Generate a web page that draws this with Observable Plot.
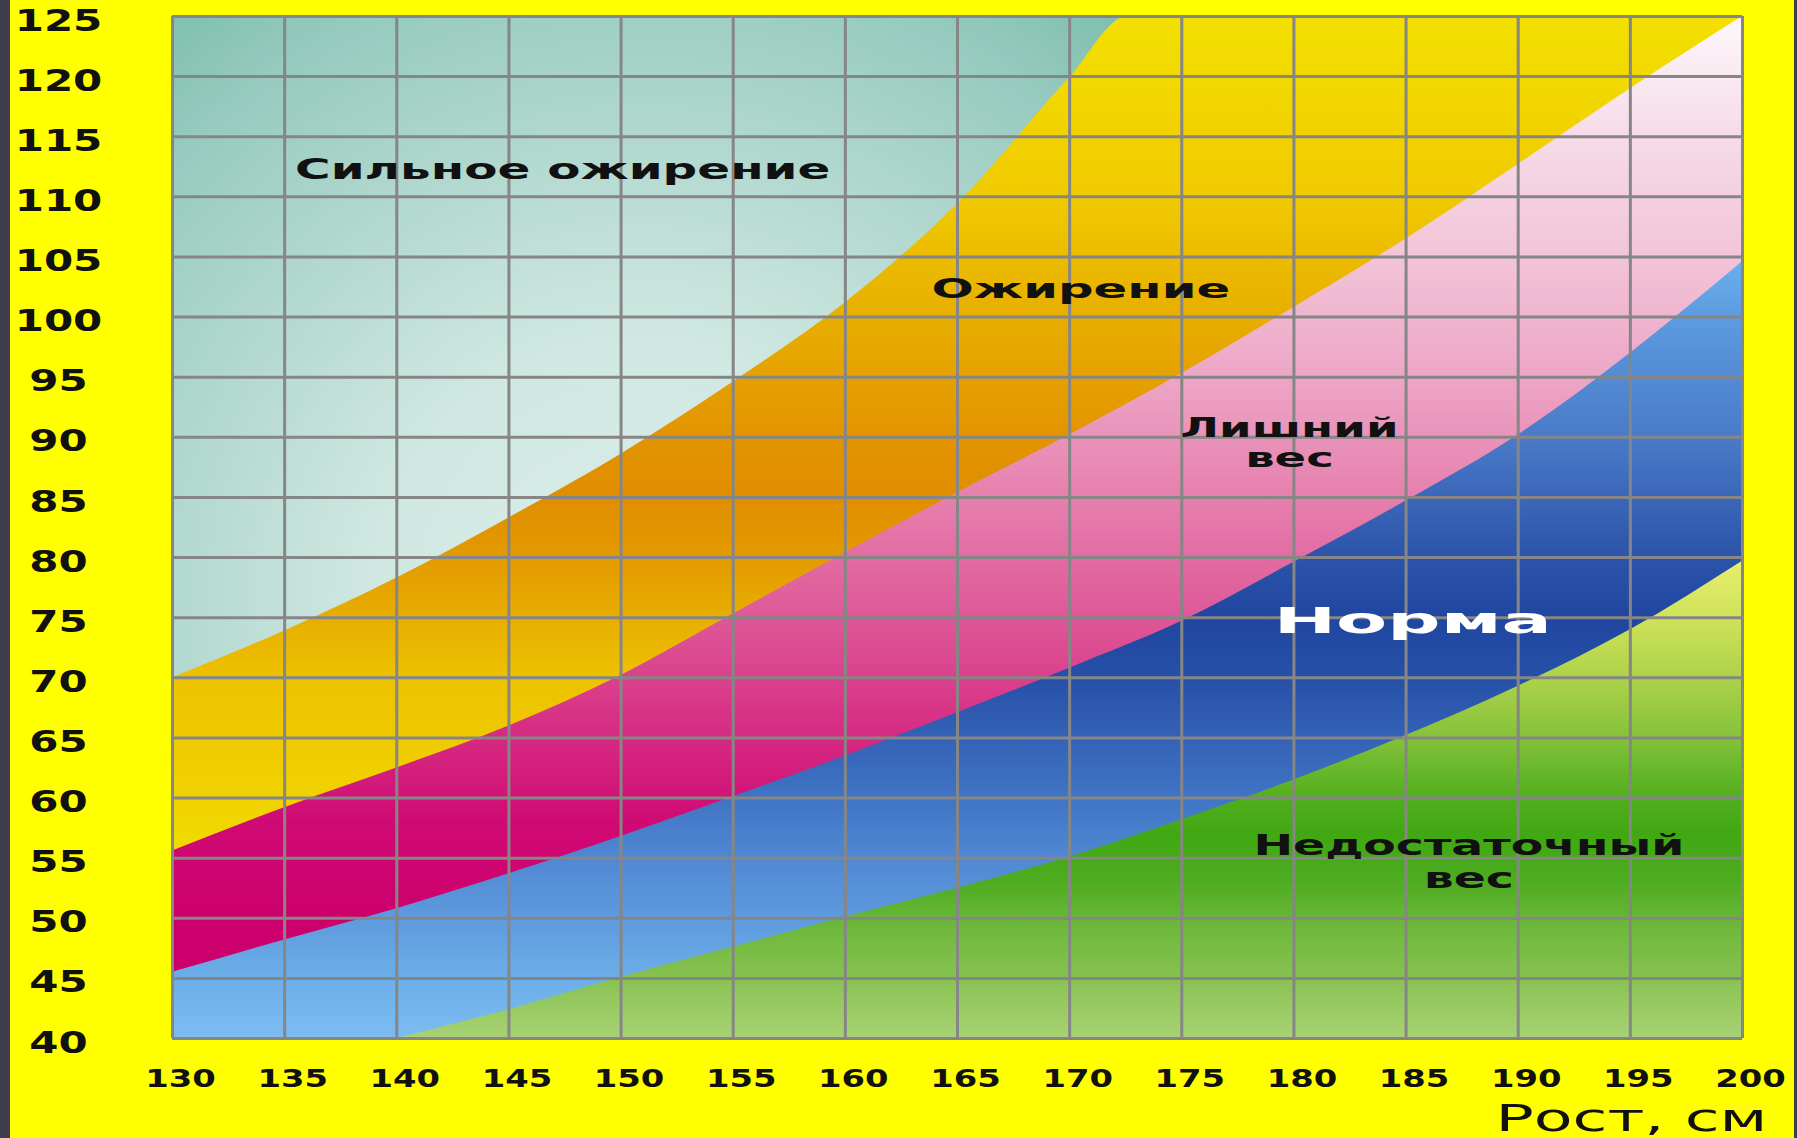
<!DOCTYPE html>
<html>
<head>
<meta charset="utf-8">
<script src="https://cdn.jsdelivr.net/npm/d3@7"></script>
<script src="https://cdn.jsdelivr.net/npm/@observablehq/plot@0.6"></script>
<style>
  html, body { margin: 0; padding: 0; background: #ffff00; overflow: hidden; }
  #wrap { position: relative; width: 1797px; height: 1138px; }
  #wrap .edgeL { position: absolute; left: 0; top: 0; width: 10px; height: 1138px; background: #3d3d4b; }
  #wrap .edgeR { position: absolute; right: 0; top: 0; width: 3px; height: 1138px; background: #3d3d4b; }
</style>
</head>
<body>
<div id="wrap"><div id="chart"></div><div class="edgeL"></div><div class="edgeR"></div></div>
<script>
// ---- Data ----
const heights = [130, 135, 140, 145, 150, 155, 160, 165, 170, 175, 180, 185, 190, 195, 200];
const weightTicks = [40, 45, 50, 55, 60, 65, 70, 75, 80, 85, 90, 95, 100, 105, 110, 115, 120, 125];

// lower edge of "Сильное ожирение" (top of the obesity band)
const severeHeights = [130, 135, 140, 145, 150, 155, 160, 165, 170, 172.6, 200];
const severeFrom   = [70, 73.9, 78.3, 83.3, 88.6, 94.6, 101.2, 109.4, 119.9, 125, 125];
// lower edge of "Ожирение" (top of the overweight band)
const obeseFrom      = [55.6, 59.2, 62.5, 66.0, 70.2, 75.3, 80.4, 85.4, 90.2, 95.3, 100.8, 106.5, 112.7, 119.0, 125];
// lower edge of "Лишний вес" (top of the norm band)
const overweightFrom = [45.5, 48.2, 50.8, 53.7, 56.8, 60.1, 63.5, 67.1, 70.8, 74.7, 79.6, 84.7, 90.2, 97.0, 104.6];
// lower edge of "Норма" (top of the underweight band)
const underHeights = [140, 145, 150, 155, 160, 165, 170, 175, 180, 185, 190, 195, 200];
const normFrom     = [40, 42.4, 45.1, 47.6, 50.1, 52.5, 55.1, 58.2, 61.5, 65.2, 69.3, 74.0, 79.7];

// zone labels
const zoneNames = ["Сильное ожирение", "Ожирение", "Лишний\nвес", "Норма", "Недостаточный\nвес"];
const zoneX = [147.4, 170.5, 179.8, 185.3, 187.8];
const zoneY = [112.2, 102.3, 89.6, 74.7, 54.8];
const xTitle = "Рост, см";

// ---- Styles ----
const zoneSize = [28, 27, 26, 36, 28];
const zoneFill = ["#111", "#111", "#111", "#fff", "#111"];
const zoneLineHeight = [1, 1, 1.19, 1, 1.2];
const zoneStretch = [1.73, 1.84, 1.79, 2.07, 1.69];
const FONT = "DejaVu Sans, Verdana, sans-serif";

const toRows = (xs, ys) => xs.map((h, i) => ({h, w: ys[i]}));
const severeRows = toRows(severeHeights, severeFrom);
const obeseRows = toRows(heights, obeseFrom);
const overRows = toRows(heights, overweightFrom);
const normRows = toRows(underHeights, normFrom);

const band = (rows, fill) => Plot.areaY(rows, {x: "h", y1: 40, y2: "w", fill, curve: "monotone-x"});

const chart = Plot.plot({
  width: 1797,
  height: 1138,
  marginLeft: 172,
  marginRight: 55,
  marginTop: 16,
  marginBottom: 100,
  style: {background: "#ffff00", fontFamily: FONT, overflow: "visible"},
  x: {domain: [130, 200], label: null},
  y: {domain: [40, 125], label: null},
  marks: [
    Plot.frame({fill: "url(#gTeal)", stroke: null}),
    band(severeRows, "url(#gOrange)"),
    band(obeseRows, "url(#gPink)"),
    band(overRows, "url(#gBlue)"),
    band(normRows, "url(#gGreen)"),
    Plot.ruleX(heights, {stroke: "#868686", strokeWidth: 3}),
    Plot.ruleY(weightTicks, {stroke: "#868686", strokeWidth: 3}),
    ...zoneNames.map((name, i) => Plot.text([i], {
      x: d => zoneX[d], y: d => zoneY[d], text: d => zoneNames[d],
      fontSize: zoneSize[i], fontWeight: "bold", fill: zoneFill[i],
      lineHeight: zoneLineHeight[i], lineAnchor: "middle", textAnchor: "middle"
    })),
    Plot.text([xTitle], {
      frameAnchor: "bottom-right", textAnchor: "end", lineAnchor: "middle",
      dx: 25, dy: 80, fontSize: 38, fontWeight: "normal", fill: "#111"
    }),
    Plot.axisY(weightTicks, {
      tickSize: 0, tickPadding: 0, dx: -114, dy: 4.5, textAnchor: "middle",
      fontSize: 30, fontWeight: "bold", fill: "#111", label: null
    }),
    Plot.axisX(heights, {
      tickSize: 0, tickPadding: 0, dx: 8, dy: 31,
      fontSize: 25, fontWeight: "bold", fill: "#111", label: null
    })
  ]
});

// gradients used as fills (vertical ramps in pixel space of the plot frame)
const frameTop = 16, frameBottom = 1038;
const off = v => ((125 - v) / 85).toFixed(3);
const stops = arr => arr.map(([v, c]) => `<stop offset="${off(v)}" stop-color="${c}"/>`).join("");
const lin = (id, arr) => `<linearGradient id="${id}" gradientUnits="userSpaceOnUse" x1="0" y1="${frameTop}" x2="0" y2="${frameBottom}">${stops(arr)}</linearGradient>`;
const defs = document.createElementNS("http://www.w3.org/2000/svg", "defs");
defs.innerHTML =
  `<radialGradient id="gTeal" gradientUnits="userSpaceOnUse" cx="640" cy="610" r="760">
     <stop offset="0" stop-color="#dcede9"/><stop offset="0.35" stop-color="#d0e8e2"/><stop offset="0.62" stop-color="#b2d8cf"/><stop offset="0.85" stop-color="#97cbbf"/><stop offset="1" stop-color="#7fbfae"/>
   </radialGradient>` +
  lin("gOrange", [[125, "#f3e000"], [110, "#f0ca00"], [100, "#e8ae00"], [90, "#e29400"], [85, "#e08e00"], [80, "#e39a00"], [75, "#e8ae00"], [70, "#edc200"], [60, "#f0d200"], [55, "#f2dc00"]]) +
  lin("gPink", [[125, "#fdf8fb"], [115, "#f6dbe8"], [105, "#f2c4d8"], [95, "#eda6c6"], [85, "#e680ae"], [75, "#de5898"], [65, "#d62a82"], [58, "#d00a74"], [50, "#cc006c"], [40, "#cc006c"]]) +
  lin("gBlue", [[105, "#6cb0ee"], [100, "#5c9ce0"], [90, "#4a7ac8"], [80, "#2c54aa"], [75, "#2046a0"], [70, "#2650a8"], [65, "#3462b6"], [60, "#4074c4"], [55, "#5088d2"], [50, "#5e9ade"], [45, "#6caee8"], [40, "#7cbcf2"]]) +
  lin("gGreen", [[80, "#eaee70"], [75, "#cfe35a"], [70, "#aed24a"], [65, "#84c23a"], [60, "#52ae1e"], [57, "#40a812"], [53, "#4eac20"], [50, "#68b636"], [45, "#88c252"], [40, "#a8d274"]]);
chart.insertBefore(defs, chart.firstChild);

document.getElementById("chart").appendChild(chart);

// widen glyphs to imitate the extended geometric typeface of the original
function stretchGroup(group, factor) {
  if (!group) return;
  group.querySelectorAll("text").forEach(t => {
    const spans = t.querySelectorAll("tspan");
    (spans.length ? [...spans] : [t]).forEach(el => {
      const L = el.getComputedTextLength();
      el.setAttribute("textLength", (L * factor).toFixed(1));
      el.setAttribute("lengthAdjust", "spacingAndGlyphs");
    });
  });
}
stretchGroup(chart.querySelector('g[aria-label="y-axis tick label"]'), 1.4);
stretchGroup(chart.querySelector('g[aria-label="x-axis tick label"]'), 1.35);
const textGroups = chart.querySelectorAll('g[aria-label="text"]');
zoneNames.forEach((_, i) => stretchGroup(textGroups[i], zoneStretch[i]));
stretchGroup(textGroups[zoneNames.length], 1.67);
</script>
</body>
</html>
